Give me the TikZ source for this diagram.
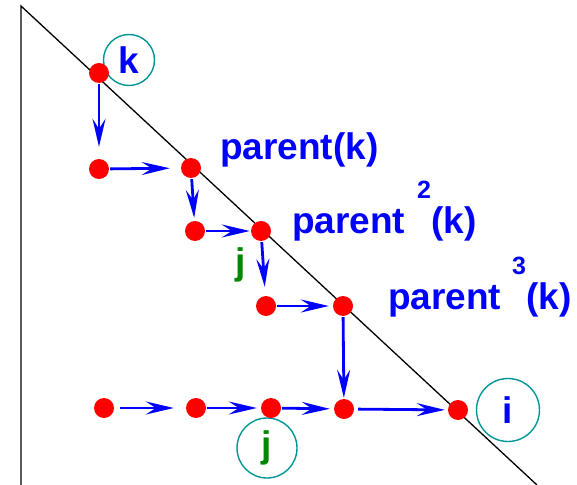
\documentclass[tikz,border=0pt]{standalone}
\usepackage{fontspec}
\setmainfont{Liberation Sans}
\usetikzlibrary{arrows.meta}
\definecolor{dotred}{RGB}{255,0,0}
\definecolor{arrblue}{RGB}{0,0,255}
\definecolor{lblgreen}{RGB}{0,135,0}
\definecolor{ringteal}{RGB}{0,150,150}
\tikzset{
  dot/.style={circle,fill=dotred,minimum size=20bp,inner sep=0pt},
  flow/.style={draw=arrblue,line width=2.8bp,-{Stealth[length=28bp,width=13bp,inset=10bp]},shorten <=1bp},
  ring/.style={circle,draw=ringteal,line width=1.4bp,inner sep=0pt},
  bigtxt/.style={text=arrblue,font=\fontsize{37bp}{40bp}\selectfont\bfseries,inner sep=0pt},
  suptxt/.style={text=arrblue,font=\fontsize{25bp}{28bp}\selectfont\bfseries,inner sep=0pt},
  grtxt/.style={text=lblgreen,font=\fontsize{37bp}{40bp}\selectfont\bfseries,inner sep=0pt},
  frame/.style={draw=black,line width=1.3bp}
}
\begin{document}
\begin{tikzpicture}[x=1bp,y=-1bp]
\useasboundingbox (0,0) rectangle (577,485);
% frame lines
\coordinate (top) at (21,6);
\coordinate (bl) at (21,485);
\coordinate (br) at (537,485);
\draw[frame] (bl) -- (top) -- (br);
% rings
\node[ring,minimum size=51bp] (ck) at (129,60) {};
\node[ring,minimum size=60bp] (cj) at (267,448) {};
\node[ring,minimum size=63bp] (ci) at (508,410) {};
% dots
\node[dot] (k) at (99,73) {};
\node[dot] (a1) at (99,169) {};
\node[dot] (p1) at (191,168) {};
\node[dot] (a2) at (195,231) {};
\node[dot] (p2) at (261,231) {};
\node[dot] (a3) at (266,306) {};
\node[dot] (p3) at (343,306) {};
\node[dot] (b1) at (104,408) {};
\node[dot] (b2) at (196,408) {};
\node[dot] (b3) at (271,408) {};
\node[dot] (b4) at (344,409) {};
\node[dot] (i) at (458,410) {};
% arrows
\draw[flow,shorten >=12bp] (k) -- (a1);
\draw[flow,shorten >=11bp] (a1) -- (p1);
\draw[flow,shorten >=3bp] (p1) -- (a2);
\draw[flow,shorten >=1bp] (a2) -- (p2);
\draw[flow,shorten >=9bp] (p2) -- (a3);
\draw[flow,shorten >=4bp] (a3) -- (p3);
\draw[flow,shorten >=1bp] (p3) -- (b4);
\draw[flow,shorten >=12bp,shorten <=6bp] (b1) -- (b2);
\draw[flow,shorten >=4bp] (b2) -- (b3);
\draw[flow,shorten >=4bp] (b3) -- (b4);
\draw[flow,shorten >=3bp,shorten <=4bp] (b4) -- (i);
% labels
\node[bigtxt] (lk) at (ck.center) {k};
\node[bigtxt] (li) at (ci.center) {i};
\node[grtxt] (lj2) at (cj.center) {j};
\node[grtxt,anchor=base] (lj1) at (241,274) {j};
\node[bigtxt,anchor=base west] (t1) at (220,160) {parent(k)};
\node[bigtxt,anchor=base west] (t2) at (292,233) {parent};
\node[suptxt] (s2) at (424,190) {2};
\node[bigtxt,anchor=base west] (t2b) at (431,233) {(k)};
\node[bigtxt,anchor=base west] (t3) at (388,309) {parent};
\node[suptxt] (s3) at (519,266) {3};
\node[bigtxt,anchor=base west] (t3b) at (526,309) {(k)};
\end{tikzpicture}
\end{document}
